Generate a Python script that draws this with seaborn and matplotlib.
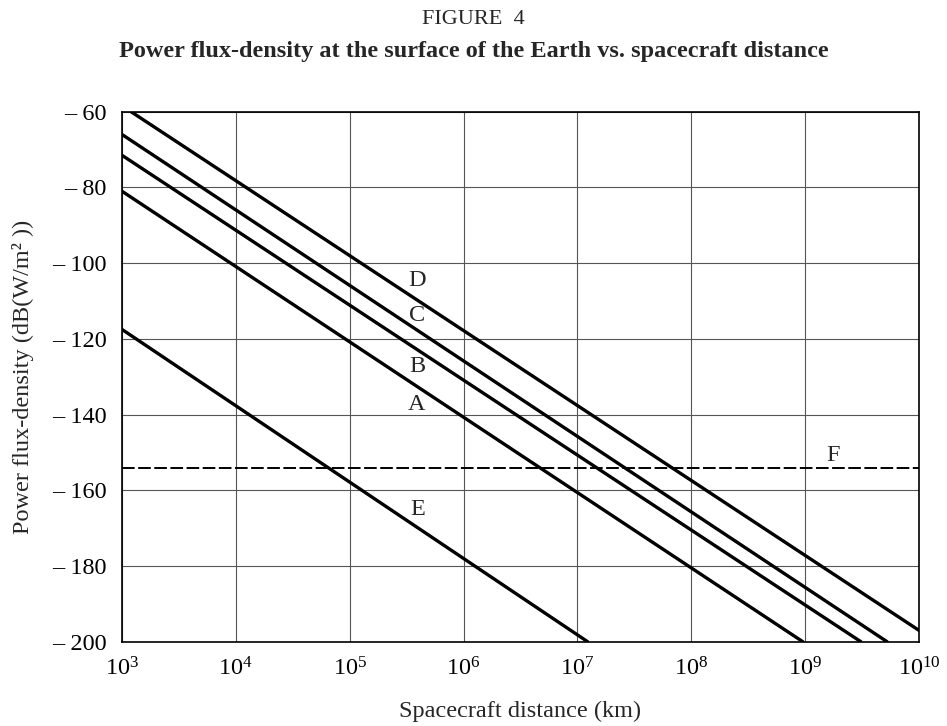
import numpy as np
import pandas as pd
import matplotlib
matplotlib.use("Agg")
import matplotlib.pyplot as plt
import seaborn as sns

# ---- data ----
series_names = ["A", "B", "C", "D", "E"]
start_distance_km = [1e3, 1e3, 1e3, 10**3.08, 1e3]
start_pfd_db = [-81.0, -71.5, -66.0, -60.0, -117.5]
end_distance_km = [10**8.98, 10**9.49, 10**9.72, 1e10, 10**7.09]
end_pfd_db = [-200.0, -200.0, -200.0, -197.0, -200.0]

f_level_db = -154.0
f_distance_km = [1e3, 1e10]

x_tick_exponents = [3, 4, 5, 6, 7, 8, 9, 10]
y_ticks = [-60, -80, -100, -120, -140, -160, -180, -200]

label_text = ["D", "C", "B", "A", "E", "F"]
label_log_x = [5.59, 5.59, 5.59, 5.59, 5.60, 9.245]
label_y = [-104.6, -113.8, -127.2, -137.3, -165.0, -150.7]

# ---- build long-form table ----
rows = []
for n, x0, y0, x1, y1 in zip(series_names, start_distance_km, start_pfd_db,
                             end_distance_km, end_pfd_db):
    rows.append({"series": n, "distance": x0, "pfd": y0})
    rows.append({"series": n, "distance": x1, "pfd": y1})
df = pd.DataFrame(rows)
df_f = pd.DataFrame({"series": ["F", "F"], "distance": f_distance_km,
                     "pfd": [f_level_db, f_level_db]})

sns.set_theme(style="white")
plt.rcParams["font.family"] = ["Liberation Serif", "DejaVu Serif"]
plt.rcParams["mathtext.fontset"] = "custom"
plt.rcParams["mathtext.rm"] = "Liberation Serif"
plt.rcParams["mathtext.it"] = "Liberation Serif"

FS = 17.5

fig = plt.figure(figsize=(9.47, 7.26), dpi=100)
ax = fig.add_axes([0.1288, 0.1161, 0.8416, 0.7300])

sns.lineplot(data=df, x="distance", y="pfd", hue="series",
             palette=["black"] * len(series_names), linewidth=2.4,
             legend=False, ax=ax, estimator=None, sort=False)
sns.lineplot(data=df_f, x="distance", y="pfd", color="black", linewidth=1.4,
             legend=False, ax=ax, estimator=None)
ax.lines[-1].set_dashes([6.5, 1.8])

ax.set_xscale("log")
ax.set_xlim(1e3, 1e10)
ax.set_ylim(-200, -60)
ax.set_xticks([10.0**e for e in x_tick_exponents])
ax.set_xticklabels([r"$\mathregular{10^{%d}}$" % e for e in x_tick_exponents],
                   fontsize=FS)
ax.minorticks_off()
ax.set_yticks(y_ticks)
ax.set_yticklabels(["\u2013 %d" % abs(v) for v in y_ticks], fontsize=FS)
ax.tick_params(axis="both", length=0, pad=11, colors="black")

ax.grid(True, color="#555555", linewidth=0.8)
for s in ax.spines.values():
    s.set_color("black")
    s.set_linewidth(1.2)
    s.set_visible(True)

ax.set_xlabel("Spacecraft distance (km)", fontsize=FS, labelpad=15)
ax.set_ylabel("Power flux-density (dB(W/m\u00b2 ))", fontsize=FS, labelpad=13)

for t, lx, ly in zip(label_text, label_log_x, label_y):
    ax.text(10**lx, ly, t, fontsize=FS, ha="center", va="center")

fig.text(0.5, 0.973, "FIGURE  4", ha="center", va="center", fontsize=16)
fig.text(0.5, 0.929,
         "Power flux-density at the surface of the Earth vs. spacecraft distance",
         ha="center", va="center", fontsize=17.5, fontweight="bold")

fig.savefig("out.png", dpi=100)
